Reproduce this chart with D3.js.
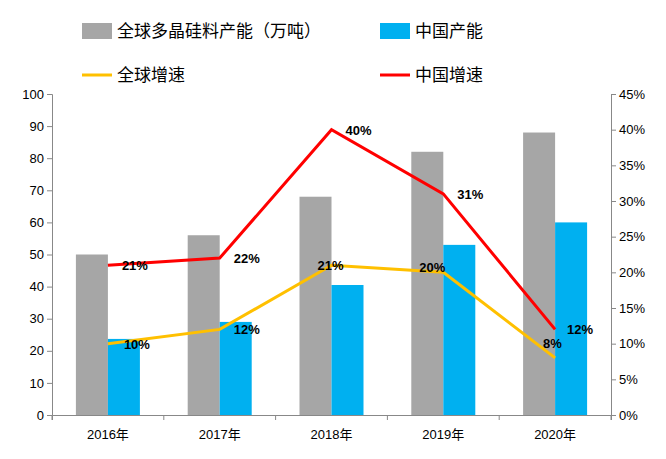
<!DOCTYPE html>
<html><head><meta charset="utf-8">
<script src="https://cdn.jsdelivr.net/npm/d3@7"></script>
<style>body{margin:0;background:#fff;font-family:"Liberation Sans","Noto Sans CJK SC",sans-serif}</style>
</head><body><svg id="c" width="666" height="459"></svg>
<script>
const years = ['2016年','2017年','2018年','2019年','2020年'];
const globalCap = [50, 56, 68, 82, 88];
const chinaCap = [23.7, 29, 40.5, 53, 60];
const globalGrowth = [10, 12, 21, 20, 8];
const chinaGrowth = [21, 22, 40, 31, 12];

const svg = d3.select('#c');
const m = {l: 52, r: 611, t: 94, b: 415};
const x = d3.scaleBand().domain(years).range([m.l, m.r]);
const y = d3.scaleLinear().domain([0, 100]).range([m.b, m.t]);
const y2 = d3.scaleLinear().domain([0, 45]).range([m.b, m.t]);
const cx = d => x(d) + x.bandwidth() / 2;
const bw = 32;

const ax = svg.append('g').attr('transform', `translate(${m.l},0)`)
  .call(d3.axisLeft(y).ticks(10).tickSize(5));
const ax2 = svg.append('g').attr('transform', `translate(${m.r},0)`)
  .call(d3.axisRight(y2).ticks(9).tickSize(5).tickFormat(d => d + '%'));
const axb = svg.append('g').attr('transform', `translate(0,${m.b})`)
  .call(d3.axisBottom(x).tickSize(5).tickValues([]));
// category boundary ticks
svg.selectAll('.bt').data(d3.range(6)).join('line')
  .attr('x1', i => m.l + i * x.bandwidth()).attr('x2', i => m.l + i * x.bandwidth())
  .attr('y1', m.b).attr('y2', m.b + 5).attr('stroke', '#888');
svg.selectAll('.xl').data(years).join('text')
  .attr('x', cx).attr('y', m.b + 24).attr('text-anchor', 'middle')
  .attr('font-size', 13).text(d => d);
[ax, ax2, axb].forEach(a => {
  a.selectAll('path,line').attr('stroke', '#888');
  a.selectAll('text').attr('font-size', 13).attr('fill', '#000');
});

svg.selectAll('.g').data(years).join('rect')
  .attr('x', d => cx(d) - bw).attr('width', bw)
  .attr('y', (d, i) => y(globalCap[i])).attr('height', (d, i) => m.b - y(globalCap[i]))
  .attr('fill', '#a6a6a6');
svg.selectAll('.cn').data(years).join('rect')
  .attr('x', d => cx(d)).attr('width', bw)
  .attr('y', (d, i) => y(chinaCap[i])).attr('height', (d, i) => m.b - y(chinaCap[i]))
  .attr('fill', '#00b0f0');

const line = d3.line().x((d, i) => cx(years[i])).y(d => y2(d));
svg.append('path').datum(globalGrowth).attr('d', line).attr('fill', 'none')
  .attr('stroke', '#ffc000').attr('stroke-width', 3);
svg.append('path').datum(chinaGrowth).attr('d', line).attr('fill', 'none')
  .attr('stroke', '#ff0000').attr('stroke-width', 3);

const lab = (arr, dx, dy) => svg.append('g').selectAll('text').data(arr).join('text')
  .attr('x', (d, i) => cx(years[i]) + dx[i]).attr('y', (d, i) => y2(d) + dy[i])
  .attr('font-size', 13).attr('font-weight', 'bold').text(d => d + '%');
lab(globalGrowth, [16, 14, -14, -24, -12], [5, 5, 5, 0, -10]);
lab(chinaGrowth, [14, 14, 14, 14, 12], [5, 5, 5, 5, 5]);

const leg = [
  {t: '全球多晶硅料产能（万吨）', c: '#a6a6a6', x: 82, y: 31, bar: true},
  {t: '中国产能', c: '#00b0f0', x: 380, y: 31, bar: true},
  {t: '全球增速', c: '#ffc000', x: 82, y: 75},
  {t: '中国增速', c: '#ff0000', x: 380, y: 75}
];
leg.forEach(d => {
  if (d.bar) svg.append('rect').attr('x', d.x).attr('y', d.y - 8).attr('width', 30).attr('height', 16).attr('fill', d.c);
  else svg.append('line').attr('x1', d.x).attr('x2', d.x + 30).attr('y1', d.y).attr('y2', d.y).attr('stroke', d.c).attr('stroke-width', 3);
  svg.append('text').attr('x', d.x + 35).attr('y', d.y + 6).attr('font-size', 17).text(d.t);
});
</script></body></html>
